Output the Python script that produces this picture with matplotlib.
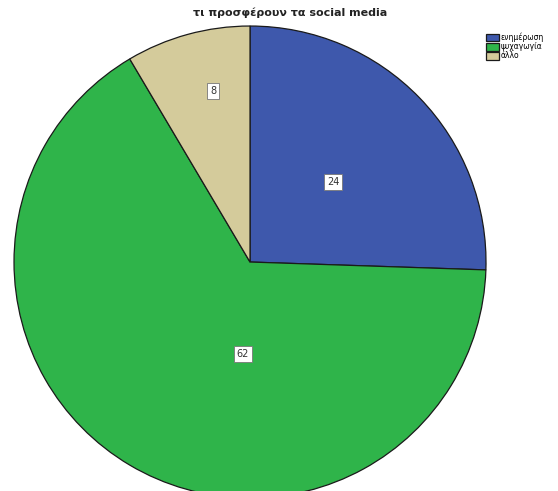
import numpy as np
import matplotlib
matplotlib.use('Agg')
import matplotlib.pyplot as plt

categories = ['ενημέρωση', 'ψυχαγωγία', 'άλλο']
values = [24, 62, 8]
colors = ['#3e58ac', '#2fb44a', '#d4cb9b']
title = 'τι προσφέρουν τα social media'

# where the labels sit inside each wedge (fraction of span, fraction of radius)
label_frac = [0.5, 0.39, 0.6]
label_rad = [0.49, 0.39, 0.74]

fig = plt.figure(figsize=(5.58, 4.91), dpi=100)
ax = fig.add_axes([0.0251, -0.0143, 0.8459, 0.9613])

wedges, _ = ax.pie(values, colors=colors, startangle=90, counterclock=False,
                   radius=1, wedgeprops=dict(edgecolor='#1a1a1a', linewidth=0.9))
ax.set_xlim(-1, 1)
ax.set_ylim(-1, 1)
ax.set_aspect('equal')
ax.axis('off')

for w, v, f, r in zip(wedges, values, label_frac, label_rad):
    ang = np.deg2rad(w.theta2 - f * (w.theta2 - w.theta1))
    ax.text(r * np.cos(ang), r * np.sin(ang), str(v), ha='center', va='center',
            fontsize=7, color='#333333',
            bbox=dict(boxstyle='square,pad=0.3', fc='white', ec='#777777', lw=0.6))

fig.text(0.52, 0.975, title, ha='center', va='center', fontsize=8,
         fontweight='bold', color='#222222')

fig.legend(wedges, categories, loc='upper left', bbox_to_anchor=(0.866, 0.94),
           fontsize=5.5, frameon=False, handlelength=1.6, handleheight=1.2,
           handletextpad=0.3, labelspacing=0.02, borderaxespad=0)

fig.savefig('out.png', dpi=100)
